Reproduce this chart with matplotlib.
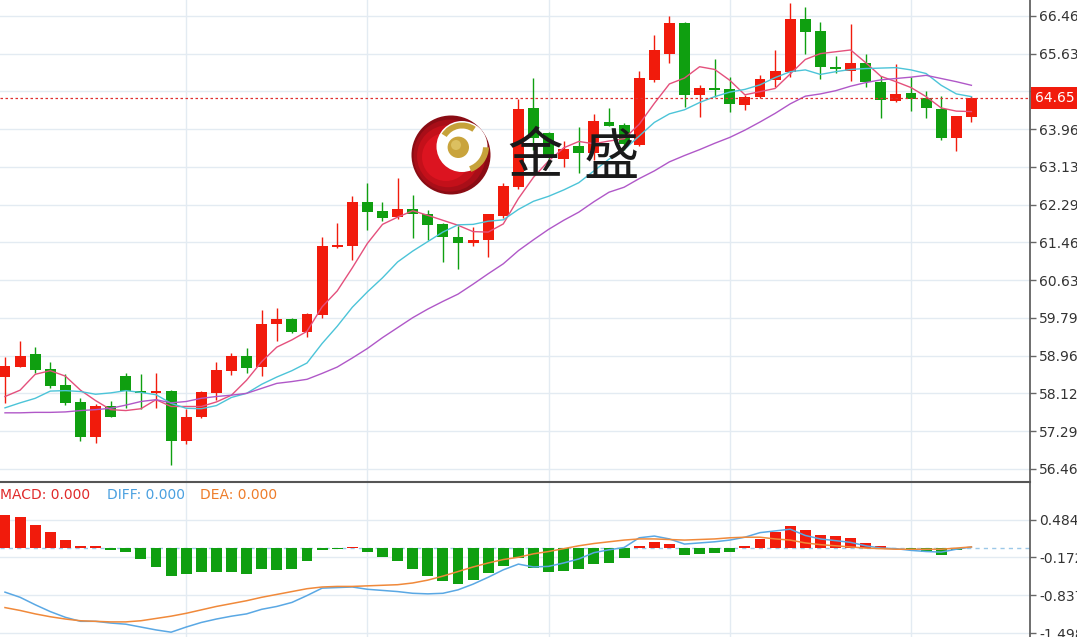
import numpy as np
import matplotlib
matplotlib.use('Agg')
import matplotlib.pyplot as plt
from matplotlib.patches import Circle, Wedge

# candle data (price units), one entry per bar
opens = [58.48, 58.72, 58.99, 58.66, 58.31, 57.94, 57.16, 57.84, 58.51, 58.18,
         58.13, 58.19, 57.08, 57.60, 58.13, 58.63, 58.96, 58.72, 59.65, 59.77,
         59.48, 59.87, 61.35, 61.39, 62.36, 62.16, 62.02, 62.21, 62.10, 61.87,
         61.59, 61.44, 61.52, 62.05, 62.68, 64.42, 63.88, 63.30, 63.60, 63.43,
         64.13, 64.05, 63.61, 65.05, 65.62, 66.31, 64.72, 64.86, 64.84, 64.50,
         64.67, 65.05, 65.23, 66.39, 66.13, 65.34, 65.25, 65.42, 65.00, 64.59,
         64.75, 64.66, 64.40, 63.77, 64.22]
highs = [58.94, 59.29, 59.16, 58.83, 58.55, 58.02, 57.90, 57.96, 58.59, 58.55,
         58.59, 58.21, 57.78, 58.19, 58.82, 59.03, 59.14, 59.97, 60.01, 59.80,
         59.91, 61.59, 61.88, 62.49, 62.77, 62.36, 62.88, 62.51, 62.18, 61.88,
         61.82, 61.81, 62.10, 62.78, 64.62, 65.10, 63.90, 63.69, 64.00, 64.29,
         64.42, 64.10, 65.25, 66.04, 66.47, 66.33, 64.94, 65.50, 65.12, 64.72,
         65.16, 65.72, 66.75, 66.65, 66.32, 65.58, 66.28, 65.62, 65.14, 65.40,
         65.11, 64.80, 64.69, 64.25, 64.70]
lows = [57.92, 58.71, 58.59, 58.24, 57.87, 57.08, 57.03, 57.60, 57.81, 57.78,
        57.80, 56.55, 57.01, 57.58, 57.98, 58.53, 58.57, 58.52, 59.29, 59.46,
        59.38, 59.79, 61.33, 61.07, 61.74, 61.94, 61.98, 61.57, 61.52, 61.02,
        60.87, 61.39, 61.15, 61.99, 62.63, 63.50, 63.17, 63.13, 62.99, 63.28,
        64.03, 63.50, 63.59, 65.01, 65.42, 64.46, 64.22, 64.68, 64.33, 64.39,
        64.65, 64.89, 65.12, 65.62, 65.06, 65.21, 65.03, 64.89, 64.20, 64.57,
        64.37, 64.20, 63.72, 63.49, 64.11]
closes = [58.74, 58.96, 58.65, 58.29, 57.92, 57.16, 57.85, 57.61, 58.18, 58.13,
          58.19, 57.08, 57.61, 58.17, 58.65, 58.96, 58.70, 59.66, 59.77, 59.48,
          59.88, 61.39, 61.40, 62.36, 62.14, 61.99, 62.21, 62.09, 61.85, 61.59,
          61.44, 61.52, 62.08, 62.71, 64.41, 63.77, 63.35, 63.52, 63.43, 64.15,
          64.04, 63.63, 65.10, 65.71, 66.30, 64.72, 64.86, 64.83, 64.51, 64.67,
          65.06, 65.25, 66.39, 66.11, 65.33, 65.28, 65.42, 65.00, 64.61, 64.74,
          64.62, 64.42, 63.77, 64.25, 64.65]

# moving averages as drawn on the chart
ma5 = [58.06, 58.20, 58.55, 58.63, 58.51, 58.20, 57.97, 57.77, 57.75, 57.79,
       57.99, 57.84, 57.84, 57.84, 57.94, 58.09, 58.42, 58.83, 59.15, 59.31,
       59.50, 60.04, 60.39, 60.90, 61.44, 61.86, 62.02, 62.16, 62.06, 61.95,
       61.84, 61.70, 61.69, 61.87, 62.43, 62.90, 63.26, 63.55, 63.69, 63.64,
       63.70, 63.75, 64.07, 64.53, 64.96, 65.09, 65.34, 65.28, 65.04, 64.72,
       64.79, 64.86, 65.18, 65.50, 65.63, 65.67, 65.71, 65.43, 65.13, 65.01,
       64.88, 64.68, 64.43, 64.36, 64.35]
ma10 = [57.81, 57.92, 58.02, 58.18, 58.19, 58.17, 58.11, 58.14, 58.19, 58.15,
        58.10, 57.91, 57.80, 57.79, 57.86, 58.04, 58.13, 58.33, 58.49, 58.63,
        58.80, 59.23, 59.61, 60.03, 60.37, 60.68, 61.03, 61.27, 61.48, 61.69,
        61.85, 61.86, 61.93, 61.96, 62.19, 62.37, 62.48, 62.62, 62.78, 63.04,
        63.30, 63.51, 63.81, 64.11, 64.30, 64.39, 64.55, 64.68, 64.78, 64.84,
        64.94, 65.10, 65.23, 65.27, 65.17, 65.23, 65.28, 65.30, 65.31, 65.32,
        65.27, 65.19, 64.93, 64.74, 64.68]
ma20 = [57.70, 57.70, 57.71, 57.71, 57.72, 57.75, 57.77, 57.80, 57.87, 57.95,
        57.99, 57.92, 57.95, 58.02, 58.06, 58.09, 58.13, 58.24, 58.35, 58.39,
        58.44, 58.57, 58.71, 58.91, 59.12, 59.36, 59.58, 59.80, 59.99, 60.16,
        60.32, 60.54, 60.77, 60.99, 61.28, 61.52, 61.75, 61.95, 62.13, 62.36,
        62.57, 62.68, 62.87, 63.04, 63.24, 63.38, 63.51, 63.65, 63.78, 63.94,
        64.12, 64.31, 64.52, 64.69, 64.74, 64.81, 64.91, 64.99, 65.05, 65.08,
        65.11, 65.15, 65.08, 65.01, 64.93]

# MACD panel
macd_hist = [0.57, 0.53, 0.40, 0.27, 0.13, 0.03, 0.03, -0.04, -0.07, -0.20,
             -0.34, -0.50, -0.46, -0.43, -0.43, -0.43, -0.46, -0.38, -0.39, -0.38,
             -0.24, -0.04, -0.03, 0.01, -0.08, -0.17, -0.24, -0.37, -0.50, -0.59,
             -0.63, -0.57, -0.45, -0.32, -0.19, -0.35, -0.43, -0.41, -0.38, -0.29,
             -0.27, -0.18, 0.03, 0.10, 0.06, -0.13, -0.11, -0.10, -0.08, 0.02,
             0.15, 0.27, 0.38, 0.31, 0.21, 0.20, 0.17, 0.08, 0.02, 0.00,
             -0.03, -0.08, -0.13, -0.04, -0.01]
diff = [-0.78, -0.87, -1.00, -1.12, -1.22, -1.29, -1.29, -1.32, -1.34, -1.39,
        -1.44, -1.48, -1.39, -1.31, -1.25, -1.20, -1.16, -1.08, -1.03, -0.96,
        -0.84, -0.71, -0.70, -0.69, -0.73, -0.75, -0.77, -0.80, -0.81, -0.80,
        -0.74, -0.64, -0.52, -0.39, -0.29, -0.34, -0.33, -0.27, -0.20, -0.09,
        -0.04, 0.00, 0.17, 0.20, 0.15, 0.06, 0.08, 0.10, 0.13, 0.18,
        0.26, 0.29, 0.32, 0.21, 0.15, 0.12, 0.09, 0.03, -0.01, -0.02,
        -0.05, -0.07, -0.08, -0.03, 0.01]
dea = [-1.05, -1.10, -1.16, -1.21, -1.25, -1.28, -1.29, -1.30, -1.30, -1.28,
       -1.24, -1.20, -1.15, -1.09, -1.03, -0.98, -0.93, -0.87, -0.82, -0.77,
       -0.72, -0.69, -0.68, -0.68, -0.67, -0.66, -0.65, -0.62, -0.57, -0.50,
       -0.42, -0.34, -0.27, -0.21, -0.17, -0.11, -0.07, -0.02, 0.03, 0.07,
       0.10, 0.13, 0.15, 0.15, 0.14, 0.13, 0.14, 0.15, 0.17, 0.18,
       0.18, 0.15, 0.13, 0.08, 0.05, 0.03, 0.01, -0.01, -0.02, -0.03,
       -0.03, -0.03, -0.03, -0.01, 0.01]

# the 64.80 label sits under the last-price tag, so it is left blank
price_ticks = ['56.46', '57.29', '58.12', '58.96', '59.79', '60.63', '61.46',
               '62.29', '63.13', '63.96', '', '65.63', '66.46']
macd_ticks = [0.484, -0.172, -0.837, -1.498]
last_price = 64.65

RED = '#f11b0c'
GREEN = '#0f9f10'
GRID = '#e3ebf2'

W, H = 1077, 637
fig = plt.figure(figsize=(W / 100, H / 100), dpi=100)
ax = fig.add_axes([0, 156 / H, 1030 / W, 481 / H])
axm = fig.add_axes([0, 0, 1030 / W, 155 / H])

x = np.arange(len(closes))
o = np.array(opens)
c = np.array(closes)
cols = [RED if cc >= oo else GREEN for oo, cc in zip(o, c)]

# candles
ax.vlines(x, lows, highs, colors=cols, lw=1.0, zorder=3)
ax.bar(x, np.maximum(np.abs(c - o), 0.03), bottom=np.minimum(o, c), width=0.72,
       color=cols, linewidth=0, zorder=4)

ax.plot(x, ma5, color='#e4507c', lw=1.0, zorder=5)
ax.plot(x, ma10, color='#4cc4d8', lw=1.0, zorder=5)
ax.plot(x, ma20, color='#b058c8', lw=1.0, zorder=5)

ax.axhline(last_price, color='#e03030', lw=0.9, ls=(0, (2, 2)), zorder=6)

ax.set_xlim(-0.33, 67.88)
ax.set_ylim(56.195, 66.813)
ax.set_yticks(np.linspace(56.46, 66.46, 13))
ax.set_yticklabels(price_ticks)

# MACD
hcols = [RED if v >= 0 else GREEN for v in macd_hist]
axm.bar(x, macd_hist, width=0.72, color=hcols, linewidth=0, zorder=3)
axm.axhline(0, color='#9cc8e8', lw=1.0, ls=(0, (3, 3)), zorder=2)
axm.plot(x, diff, color='#5aa8e4', lw=1.1, zorder=4)
axm.plot(x, dea, color='#f0893a', lw=1.1, zorder=4)
axm.set_xlim(-0.33, 67.88)
axm.set_ylim(-1.564, 1.145)
axm.set_yticks(macd_ticks)
axm.set_yticklabels(['%.3f' % v for v in macd_ticks])

for a in (ax, axm):
    a.yaxis.tick_right()
    a.set_xticks([12, 24, 36, 48, 60])
    a.tick_params(axis='x', length=0, labelbottom=False)
    a.tick_params(axis='y', length=4, width=1, color='#666666', labelsize=10,
                  labelcolor='#333333', pad=2.5)
    a.grid(True, color=GRID, lw=1.0, zorder=0)
    a.set_axisbelow(True)
    for s in ('left', 'bottom', 'top'):
        a.spines[s].set_visible(False)
    a.spines['right'].set_color('#555555')
    a.spines['right'].set_linewidth(1.2)

axm.spines['top'].set_visible(True)
axm.spines['top'].set_color('#555555')
axm.spines['top'].set_linewidth(1.5)

# last price tag on the axis
ax.text(1.0 + 5 / 1030, last_price, '64.65', transform=ax.get_yaxis_transform(),
        color='white', fontsize=10, va='center', ha='left', clip_on=False, zorder=10,
        bbox=dict(boxstyle='square,pad=0.28', fc=RED, ec='none'))

# overlay in pixel coordinates for watermark and MACD caption
ov = fig.add_axes([0, 0, 1, 1], zorder=5)
ov.set_xlim(0, W)
ov.set_ylim(H, 0)
ov.axis('off')
ov.patch.set_alpha(0)

ov.text(0, 495, 'MACD: 0.000', color='#e02a2a', fontsize=10, va='center', ha='left')
ov.text(107, 495, 'DIFF: 0.000', color='#4aa0e0', fontsize=10, va='center', ha='left')
ov.text(200, 495, 'DEA: 0.000', color='#ee7d2a', fontsize=10, va='center', ha='left')

# logo: shaded red sphere with a white cut-out and gold pieces
shades = [(39.5, '#8a0c14', 0), (36, '#a80e18', -1.5), (31, '#c4101a', -3), (24, '#dc1420', -5)]
for r, col, dx in shades:
    ov.add_patch(Circle((451 + dx, 155 - dx * 0.4), r, color=col, lw=0))
ov.add_patch(Circle((462, 146.5), 25.5, color='white', lw=0))
ov.add_patch(Wedge((462, 146.5), 24, 212, 305, width=6, color='#c6a23a', lw=0))
ov.add_patch(Wedge((462, 146.5), 27, 2, 70, width=6, color='#c6a23a', lw=0))
ov.add_patch(Circle((458.3, 147.3), 10.7, color='#c9a43c', lw=0))
ov.add_patch(Circle((456, 145), 5, color='#dcc060', lw=0))

cjk = ['Noto Sans CJK SC', 'DejaVu Sans']
ov.text(535, 157, '金', family=cjk, fontsize=40, color='#1a1a1a', ha='center', va='center')
ov.text(611, 159, '盛', family=cjk, fontsize=40, color='#1a1a1a', ha='center', va='center')

fig.savefig('out.png', dpi=100)
